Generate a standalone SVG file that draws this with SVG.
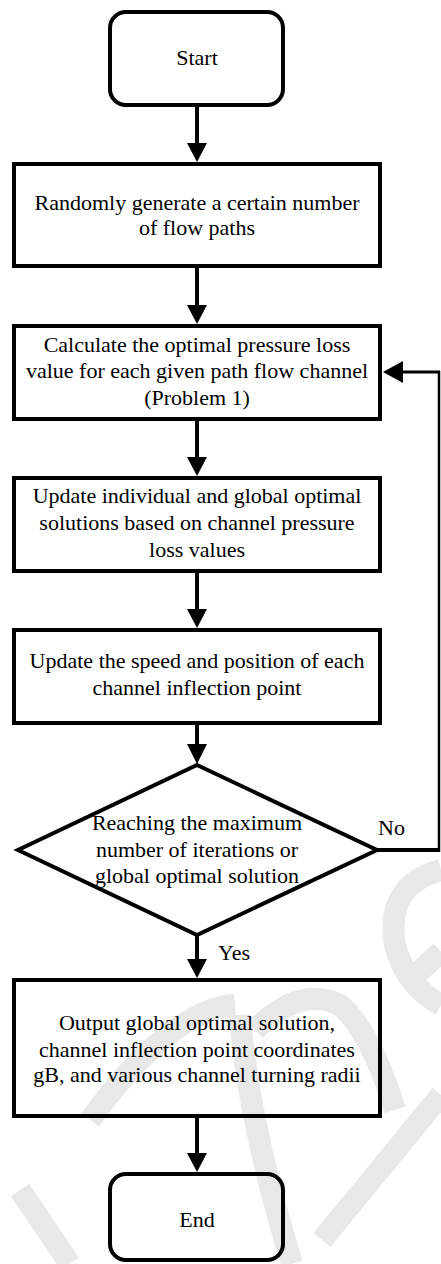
<svg xmlns="http://www.w3.org/2000/svg" width="441" height="1264" viewBox="0 0 441 1264">
<style>
.bx{fill:none;stroke:#000;stroke-width:4}
.ln{stroke:#000;stroke-width:4;fill:none}
.ah{fill:#000}
.t{font-family:'Liberation Serif',serif;font-size:22px;fill:#000;text-anchor:middle}
.lb{font-family:'Liberation Serif',serif;font-size:22px;fill:#000}
.wm{fill:none;stroke:#e8e8e8;stroke-width:22;stroke-linecap:butt}
</style>
<rect x="0" y="0" width="441" height="1264" fill="#fff"/>
<g id="watermark">
<path class="wm" d="M20 1190 L70 1264"/>
<path class="wm" d="M90 1120 Q170 1010 235 1005"/>
<path class="wm" d="M240 1015 Q248 1120 292 1264"/>
<path class="wm" d="M255 1030 Q300 985 340 1005 Q370 1030 395 1110"/>
<path class="wm" d="M441 870 Q385 885 395 945 Q405 985 441 1005"/>
<path class="wm" d="M441 1095 L322 1240"/>
<path class="wm" d="M412 978 L441 952"/>
</g>
<g id="connectors">
<line class="ln" x1="197" y1="107" x2="197" y2="145"/>
<polygon class="ah" points="187,143 207,143 197,162"/>
<line class="ln" x1="197" y1="268" x2="197" y2="307"/>
<polygon class="ah" points="187,305 207,305 197,324"/>
<line class="ln" x1="197" y1="421" x2="197" y2="459"/>
<polygon class="ah" points="187,457 207,457 197,476"/>
<line class="ln" x1="197" y1="573" x2="197" y2="611"/>
<polygon class="ah" points="187,609 207,609 197,628"/>
<line class="ln" x1="197" y1="725" x2="197" y2="746"/>
<polygon class="ah" points="187,744 207,744 197,764"/>
<line class="ln" x1="197" y1="935" x2="197" y2="961"/>
<polygon class="ah" points="187,959 207,959 197,978"/>
<line class="ln" x1="197" y1="1118" x2="197" y2="1155"/>
<polygon class="ah" points="187,1153 207,1153 197,1172"/>
<line x1="377" y1="850" x2="440" y2="850" stroke="#000" stroke-width="4"/>
<line x1="439" y1="852" x2="439" y2="371" stroke="#000" stroke-width="2.5"/>
<line x1="440" y1="372" x2="401" y2="372" stroke="#000" stroke-width="3"/>
<polygon class="ah" points="383,372 403,361 403,383"/>
</g>
<g id="start">
<rect class="bx" x="110" y="12" width="173" height="93" rx="16"/>
<text class="t" x="197" y="65">Start</text>
</g>
<g id="generate">
<rect class="bx" x="14" y="164" width="366" height="102"/>
<text class="t" x="197" y="210">Randomly generate a certain number</text>
<text class="t" x="197" y="235">of flow paths</text>
</g>
<g id="calculate">
<rect class="bx" x="14" y="326" width="366" height="93"/>
<text class="t" x="197" y="352">Calculate the optimal pressure loss</text>
<text class="t" x="197" y="378">value for each given path flow channel</text>
<text class="t" x="197" y="405">(Problem 1)</text>
</g>
<g id="update-solutions">
<rect class="bx" x="14" y="478" width="366" height="93"/>
<text class="t" x="197" y="503">Update individual and global optimal</text>
<text class="t" x="197" y="530">solutions based on channel pressure</text>
<text class="t" x="197" y="557">loss values</text>
</g>
<g id="update-speed">
<rect class="bx" x="14" y="630" width="366" height="93"/>
<text class="t" x="197" y="668">Update the speed and position of each</text>
<text class="t" x="197" y="695">channel inflection point</text>
</g>
<g id="decision">
<polygon class="bx" points="197,765 377,850 197,935 18,850"/>
<text class="t" x="197" y="830">Reaching the maximum</text>
<text class="t" x="197" y="857">number of iterations or</text>
<text class="t" x="197" y="883">global optimal solution</text>
</g>
<g id="labels">
<text class="lb" x="378" y="835">No</text>
<text class="lb" x="218" y="960">Yes</text>
</g>
<g id="output">
<rect class="bx" x="14" y="980" width="366" height="136"/>
<text class="t" x="197" y="1030">Output global optimal solution,</text>
<text class="t" x="197" y="1057">channel inflection point coordinates</text>
<text class="t" x="197" y="1082">gB, and various channel turning radii</text>
</g>
<g id="end">
<rect class="bx" x="110" y="1174" width="173" height="86" rx="16"/>
<text class="t" x="197" y="1227">End</text>
</g>
</svg>
